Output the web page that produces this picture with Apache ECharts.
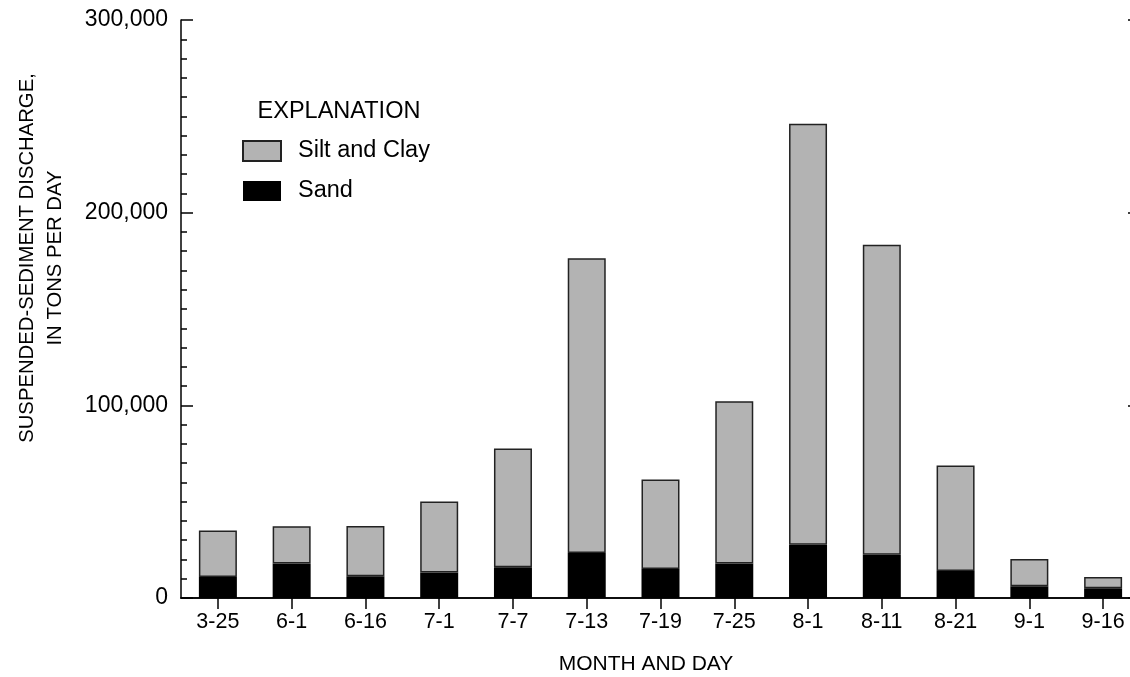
<!DOCTYPE html>
<html><head><meta charset="utf-8">
<script src="https://cdn.jsdelivr.net/npm/echarts@6/dist/echarts.min.js"></script>
<style>html,body{margin:0;padding:0;background:#fff;overflow:hidden;width:1130px;height:677px}#c{width:1140px;height:677px}</style>
</head><body><div id="c"></div>
<script>
const categories = ['3-25','6-1','6-16','7-1','7-7','7-13','7-19','7-25','8-1','8-11','8-21','9-1','9-16'];
// total suspended-sediment discharge (tons/day)
const totalValues = [35000, 37200, 37400, 50100, 77600, 176300, 61500, 102100, 246200, 183400, 68800, 20200, 10900];
const sandValues = [10900, 17900, 11300, 13300, 15900, 23400, 15100, 17900, 27700, 22500, 14000, 6100, 5000];
const siltClayValues = totalValues.map((t, i) => t - sandValues[i]);
const yTicks = [0, 100000, 200000, 300000];

const FONT = 'Liberation Sans, Arial, sans-serif';
const chart = echarts.init(document.getElementById('c'), null, {renderer: 'canvas'});
chart.setOption({
  animation: false,
  backgroundColor: '#fff',
  textStyle: {fontFamily: FONT},
  grid: {left: 181, right: 0, top: 20, bottom: 79},
  legend: {
    data: [{name: 'Silt and Clay', icon: 'rect'}, {name: 'Sand', icon: 'rect'}],
    orient: 'vertical', left: 242, top: 139, padding: 0,
    itemWidth: 38, itemHeight: 20, itemGap: 16,
    textStyle: {fontSize: 23.5, lineHeight: 20, color: '#000', fontFamily: FONT, padding: [0, 0, 0, 12]}
  },
  graphic: [
    {type: 'text', x: 339, y: 112, style: {text: 'EXPLANATION', fontSize: 23.5, fill: '#000', fontFamily: FONT, align: 'center', verticalAlign: 'middle'}},
    {type: 'text', x: 646, y: 664, style: {text: 'MONTH AND DAY', fontSize: 21, fill: '#000', fontFamily: FONT, align: 'center', verticalAlign: 'middle'}},
    {type: 'text', x: 41, y: 258, rotation: Math.PI / 2, style: {text: 'SUSPENDED-SEDIMENT DISCHARGE,\nIN TONS PER DAY', fontSize: 20.3, lineHeight: 28, fill: '#000', fontFamily: FONT, align: 'center', verticalAlign: 'middle'}}
  ],
  xAxis: [
    {type: 'category', data: categories, position: 'bottom',
     axisLine: {lineStyle: {color: '#000', width: 1.5}},
     axisTick: {show: false},
     axisLabel: {fontSize: 21.5, color: '#000', margin: 13, fontFamily: FONT, interval: 0},
     splitLine: {show: false}},
    {type: 'category', data: categories, position: 'top',
     axisLine: {lineStyle: {color: '#000', width: 1.5}},
     axisTick: {show: true, inside: true, length: 11, alignWithLabel: true, lineStyle: {color: '#000', width: 1.5}},
     axisLabel: {show: false}, splitLine: {show: false}}
  ],
  yAxis: [
    {type: 'value', min: 0, max: 300000, interval: 100000, position: 'left',
     axisLine: {show: true, lineStyle: {color: '#000', width: 1.5}},
     axisTick: {show: true, inside: true, length: 12, lineStyle: {color: '#000', width: 1.5}},
     minorTick: {show: true, splitNumber: 10, length: 6, lineStyle: {color: '#000', width: 1.5}},
     axisLabel: {fontSize: 23, color: '#000', margin: 13, fontFamily: FONT,
       formatter: v => yTicks.includes(v) ? v.toLocaleString('en-US') : ''},
     splitLine: {show: false}},
    {type: 'value', min: 0, max: 300000, interval: 100000, position: 'right',
     axisLine: {show: false},
     axisTick: {show: true, inside: true, length: 12, lineStyle: {color: '#000', width: 1.5}},
     axisLabel: {show: false}, splitLine: {show: false}}
  ],
  series: [
    {name: 'Sand', type: 'bar', stack: 'q', data: sandValues, barWidth: 38,
     itemStyle: {color: '#000'}},
    {name: 'Silt and Clay', type: 'bar', stack: 'q', data: siltClayValues, barWidth: 38,
     itemStyle: {color: '#b3b3b3', borderColor: '#222', borderWidth: 1.5}}
  ]
});
</script></body></html>
